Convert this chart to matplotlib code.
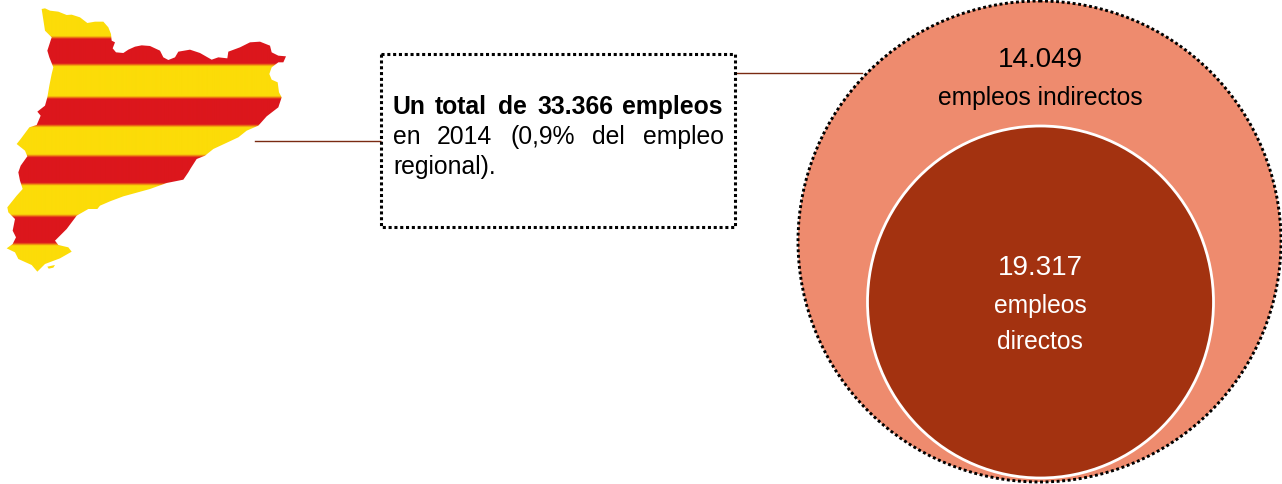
import numpy as np
import matplotlib
matplotlib.use("Agg")
import matplotlib.pyplot as plt
from matplotlib.colors import to_rgb
from matplotlib.patches import Ellipse, Polygon, Rectangle

plt.rcParams['font.family'] = ['Liberation Sans', 'DejaVu Sans']

line1_words = ["Un", "total", "de", "33.366", "empleos"]
line2_words = ["en", "2014", "(0,9%", "del", "empleo"]
line3_text = "regional)."
indirect_value = "14.049"
indirect_label = "empleos indirectos"
direct_value = "19.317"
direct_labels = ["empleos", "directos"]

# map outline, pixels x 3
map_x = [125, 135, 150, 175, 200, 215, 240, 262, 285, 310, 325, 333, 335, 345, 338, 348, 370, 385,
         405, 425, 450, 480, 490, 505, 525, 535, 570, 600, 635, 655, 682, 685, 720, 750, 780, 810,
         815, 835, 858, 850, 835, 815, 808, 815, 833, 837, 845, 835, 800, 775, 740, 715, 640, 615,
         590, 572, 565, 550, 500, 450, 370, 330, 300, 292, 265, 230, 200, 165, 175, 205, 215, 180,
         135, 112, 95, 55, 45, 20, 38, 48, 38, 45, 25, 22, 50, 68, 60, 55, 62, 82, 75, 50,
         62, 88, 110, 122, 112, 135, 142, 148, 155, 160, 148, 142, 155, 135]
map_y = [30, 28, 35, 38, 48, 47, 55, 72, 68, 68, 85, 105, 125, 130, 148, 160, 162, 152,
         143, 139, 141, 155, 175, 183, 175, 158, 152, 162, 182, 175, 178, 158, 145, 130, 128, 140,
         160, 170, 172, 190, 190, 205, 225, 242, 250, 280, 295, 325, 352, 380, 395, 415, 450, 470,
         480, 508, 520, 542, 552, 570, 592, 607, 620, 630, 630, 650, 690, 725, 738, 745, 758, 778,
         795, 818, 798, 780, 760, 748, 735, 715, 695, 660, 640, 625, 590, 570, 545, 520, 500, 472, 455, 435,
         420, 385, 378, 350, 338, 320, 295, 260, 225, 205, 175, 155, 115, 95]
island_x = [142, 165, 160, 146]
island_y = [803, 798, 806, 809]
stripe_edges = [115, 197, 295, 380, 470, 555, 650, 735]

yellow = np.array(to_rgb('#fcdc08'))
red = np.array(to_rgb('#dc161c'))

fig = plt.figure(figsize=(12.82, 4.85), dpi=100)
ax = fig.add_axes([0, 0, 1, 1])
ax.set_xlim(0, 1282)
ax.set_ylim(485, 0)
ax.axis('off')

# flag map: striped image clipped to the outline, edges blurred a little
rows = np.arange(0, 300, 0.25)
redness = np.zeros_like(rows)
for top, bottom in zip(stripe_edges[0::2], stripe_edges[1::2]):
    redness += np.interp(rows, [top / 3 - 1.5, top / 3 + 1.5, bottom / 3 - 1.5, bottom / 3 + 1.5], [0, 1, 1, 0])
flag = yellow + (red - yellow) * redness[:, None]
flag = flag[:, None, :]
img = ax.imshow(flag, extent=(0, 300, 300, 0), aspect='auto', interpolation='bilinear', zorder=1)
outline = Polygon(np.column_stack([map_x, map_y]) / 3, closed=True, fc='none', ec='none',
                  transform=ax.transData)
ax.add_patch(outline)
img.set_clip_path(outline)
ax.add_patch(Polygon(np.column_stack([island_x, island_y]) / 3, closed=True, fc=yellow, ec='none', zorder=1))
ax.set_xlim(0, 1282)
ax.set_ylim(485, 0)

# connector lines
ax.plot([255, 381], [141.5, 141.5], color='#7a2a12', lw=1, zorder=1)
ax.plot([735, 862], [74, 74], color='#7a2a12', lw=1, zorder=1)

# text box
ax.add_patch(Rectangle((381, 55), 354, 173, fc='white', ec='black', lw=2.2,
                       ls=(0, (1, 0.9)), zorder=3))
line1_left = [393, 435, 498, 537, 622]
for word, left in zip(line1_words, line1_left):
    ax.text(left, 114, word, fontsize=17.8, fontweight='bold', va='baseline', ha='left', zorder=4)
line2_left = [393, 437, 511, 592, 643]
for word, left in zip(line2_words, line2_left):
    ax.text(left, 144, word, fontsize=17.8, va='baseline', ha='left', zorder=4)
ax.text(393, 174, line3_text, fontsize=17.8, va='baseline', ha='left', zorder=4)

# circles
ax.add_patch(Ellipse((1039.5, 242.5), 483, 481, fc='#ee8b6e', ec='black', lw=2.1,
                     ls=(0, (1, 0.9)), zorder=2))
ax.add_patch(Ellipse((1040.5, 303), 346, 352, fc='#a33210', ec='white', lw=2, zorder=3))

ax.text(1040, 66.7, indirect_value, fontsize=20, ha='center', va='baseline', zorder=4)
ax.text(1040, 105, indirect_label, fontsize=17.7, ha='center', va='baseline', zorder=4)
ax.text(1040, 275, direct_value, fontsize=20, color='white', ha='center', va='baseline', zorder=4)
ax.text(1040, 312.7, direct_labels[0], fontsize=17.7, color='white', ha='center', va='baseline', zorder=4)
ax.text(1040, 349, direct_labels[1], fontsize=17.7, color='white', ha='center', va='baseline', zorder=4)

fig.savefig("out.png", dpi=100)
